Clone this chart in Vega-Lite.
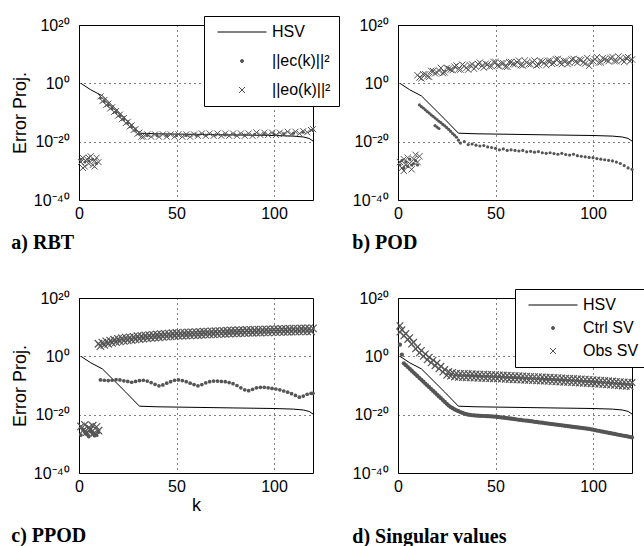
{
"$schema":"https://vega.github.io/schema/vega-lite/v6.json",
"background":"white",
"padding":{"left":10,"top":15,"right":0,"bottom":0},
"config":{
 "view":{"stroke":"black","strokeWidth":1},
 "font":"Liberation Sans",
 "axis":{"domain":false,"ticks":false,"grid":true,"gridColor":"black","gridDash":[1,4],"gridOpacity":1,"gridWidth":1,"labelFont":"Liberation Sans","labelFontSize":16,"labelColor":"black","labelFlush":false,"labelOverlap":false,"titleFont":"Liberation Sans","titleFontSize":18,"titleFontWeight":"normal","titleColor":"black"},
 "axisX":{"labelPadding":5,"titlePadding":2},
 "axisY":{"labelPadding":10,"titlePadding":4},
 "title":{"font":"Liberation Serif","fontSize":20,"fontWeight":"bold","orient":"bottom","anchor":"start","color":"black"}
},
"columns":2,
"spacing":{"row":98,"column":85},
"bounds":"flush",
"resolve":{"scale":{"color":"independent"}},
"concat":[
 {"width":234,"height":175,"title":{"text":"a) RBT","offset":12},
  "layer":[
   {"data":{"name":"hsv"},"mark":{"type":"line","strokeWidth":1,"color":"black"},
    "encoding":{
     "x":{"field":"k","type":"quantitative","scale":{"domain":[0,120],"nice":false,"zero":false},"axis":{"values":[0,50,100],"title":null}},
     "y":{"field":"v","type":"quantitative","scale":{"type":"log","domain":[1e-40,1e20],"nice":false},"axis":{"values":[1e-40,1e-20,1,1e20],"labelExpr":"datum.value > 1e10 ? '10²⁰' : datum.value > 1e-10 ? '10⁰' : datum.value > 1e-30 ? '10⁻²⁰' : '10⁻⁴⁰'","title":"Error Proj."}},
     "color":{"datum":"HSV","scale":{"domain":["HSV","||ec(k)||²","||eo(k)||²"],"range":["#000000","#555555","#555555"]},
      "legend":{"orient":"none","legendX":125,"legendY":-9,"title":null,"padding":8,"strokeColor":"black","fillColor":"white","labelFont":"Liberation Sans","labelFontSize":16,"labelColor":"black","rowPadding":13,"symbolSize":100,"symbolOffset":22,"labelOffset":22,"symbolStrokeWidth":1,
       "encode":{"symbols":{"update":{
        "shape":{"signal":"datum.value === 'HSV' ? 'stroke' : datum.value === '||eo(k)||²' ? 'M-1,-1L1,1M-1,1L1,-1' : 'circle'"},
        "size":{"signal":"datum.value === 'HSV' ? 2400 : datum.value === '||eo(k)||²' ? 36 : 9"},
        "fill":{"signal":"datum.value === '||ec(k)||²' ? '#555555' : 'transparent'"},
        "stroke":{"signal":"datum.value === 'HSV' ? '#000000' : '#555555'"},
        "strokeWidth":{"value":1},"opacity":{"value":1}}}}}}}},
   {"data":{"name":"a_c"},"mark":{"type":"point","filled":true,"size":9,"opacity":1},
    "encoding":{"x":{"field":"k","type":"quantitative"},"y":{"field":"v","type":"quantitative"},"color":{"datum":"||ec(k)||²"}}},
   {"data":{"name":"a_o"},"mark":{"type":"point","shape":"M-1,-1L1,1M-1,1L1,-1","filled":false,"size":36,"strokeWidth":1,"opacity":1},
    "encoding":{"x":{"field":"k","type":"quantitative"},"y":{"field":"v","type":"quantitative"},"color":{"datum":"||eo(k)||²"}}}
  ]},
 {"width":234,"height":175,"title":{"text":"b) POD","offset":12},
  "layer":[
   {"data":{"name":"hsv"},"mark":{"type":"line","strokeWidth":1},
    "encoding":{
     "x":{"field":"k","type":"quantitative","scale":{"domain":[0,120],"nice":false,"zero":false},"axis":{"values":[0,50,100],"title":null}},
     "y":{"field":"v","type":"quantitative","scale":{"type":"log","domain":[1e-40,1e20],"nice":false},"axis":{"values":[1e-40,1e-20,1,1e20],"labelExpr":"datum.value > 1e10 ? '10²⁰' : datum.value > 1e-10 ? '10⁰' : datum.value > 1e-30 ? '10⁻²⁰' : '10⁻⁴⁰'","title":null}},
     "color":{"datum":"HSV","scale":{"domain":["HSV","||ec(k)||²","||eo(k)||²"],"range":["#000000","#555555","#555555"]},"legend":null}}},
   {"data":{"name":"b_c"},"mark":{"type":"point","filled":true,"size":10,"opacity":1},
    "encoding":{"x":{"field":"k","type":"quantitative"},"y":{"field":"v","type":"quantitative"},"color":{"datum":"||ec(k)||²"}}},
   {"data":{"name":"b_o"},"mark":{"type":"point","shape":"M-1,-1L1,1M-1,1L1,-1","filled":false,"size":40,"strokeWidth":1,"opacity":1},
    "encoding":{"x":{"field":"k","type":"quantitative"},"y":{"field":"v","type":"quantitative"},"color":{"datum":"||eo(k)||²"}}}
  ]},
 {"width":234,"height":175,"title":{"text":"c) PPOD","offset":12},
  "layer":[
   {"data":{"name":"hsv"},"mark":{"type":"line","strokeWidth":1},
    "encoding":{
     "x":{"field":"k","type":"quantitative","scale":{"domain":[0,120],"nice":false,"zero":false},"axis":{"values":[0,50,100],"title":"k"}},
     "y":{"field":"v","type":"quantitative","scale":{"type":"log","domain":[1e-40,1e20],"nice":false},"axis":{"values":[1e-40,1e-20,1,1e20],"labelExpr":"datum.value > 1e10 ? '10²⁰' : datum.value > 1e-10 ? '10⁰' : datum.value > 1e-30 ? '10⁻²⁰' : '10⁻⁴⁰'","title":"Error Proj."}},
     "color":{"datum":"HSV","scale":{"domain":["HSV","||ec(k)||²","||eo(k)||²"],"range":["#000000","#555555","#555555"]},"legend":null}}},
   {"data":{"name":"c_c"},"mark":{"type":"point","filled":true,"size":14,"opacity":1},
    "encoding":{"x":{"field":"k","type":"quantitative"},"y":{"field":"v","type":"quantitative"},"color":{"datum":"||ec(k)||²"}}},
   {"data":{"name":"c_o"},"mark":{"type":"point","shape":"M-1,-1L1,1M-1,1L1,-1","filled":false,"size":56,"strokeWidth":1.2,"opacity":1},
    "encoding":{"x":{"field":"k","type":"quantitative"},"y":{"field":"v","type":"quantitative"},"color":{"datum":"||eo(k)||²"}}}
  ]},
 {"width":234,"height":175,"title":{"text":"d) Singular values","offset":33},
  "layer":[
   {"data":{"name":"hsv"},"mark":{"type":"line","strokeWidth":1},
    "encoding":{
     "x":{"field":"k","type":"quantitative","scale":{"domain":[0,120],"nice":false,"zero":false},"axis":{"values":[0,50,100],"title":null}},
     "y":{"field":"v","type":"quantitative","scale":{"type":"log","domain":[1e-40,1e20],"nice":false},"axis":{"values":[1e-40,1e-20,1,1e20],"labelExpr":"datum.value > 1e10 ? '10²⁰' : datum.value > 1e-10 ? '10⁰' : datum.value > 1e-30 ? '10⁻²⁰' : '10⁻⁴⁰'","title":null}},
     "color":{"datum":"HSV","scale":{"domain":["HSV","Ctrl SV","Obs SV"],"range":["#000000","#555555","#555555"]},
      "legend":{"orient":"none","legendX":117,"legendY":-9,"title":null,"padding":8,"strokeColor":"black","fillColor":"white","labelFont":"Liberation Sans","labelFontSize":16,"labelColor":"black","rowPadding":7,"symbolSize":100,"symbolOffset":22,"labelOffset":22,"symbolStrokeWidth":1,
       "encode":{"symbols":{"update":{
        "shape":{"signal":"datum.value === 'HSV' ? 'stroke' : datum.value === 'Obs SV' ? 'M-1,-1L1,1M-1,1L1,-1' : 'circle'"},
        "size":{"signal":"datum.value === 'HSV' ? 2400 : datum.value === 'Obs SV' ? 36 : 9"},
        "fill":{"signal":"datum.value === 'Ctrl SV' ? '#555555' : 'transparent'"},
        "stroke":{"signal":"datum.value === 'HSV' ? '#000000' : '#555555'"},
        "strokeWidth":{"value":1},"opacity":{"value":1}}}}}}}},
   {"data":{"name":"d_c"},"mark":{"type":"point","filled":true,"size":18,"opacity":1},
    "encoding":{"x":{"field":"k","type":"quantitative"},"y":{"field":"v","type":"quantitative"},"color":{"datum":"Ctrl SV"}}},
   {"data":{"name":"d_o"},"mark":{"type":"point","shape":"M-1,-1L1,1M-1,1L1,-1","filled":false,"size":44,"strokeWidth":1.2,"opacity":1},
    "encoding":{"x":{"field":"k","type":"quantitative"},"y":{"field":"v","type":"quantitative"},"color":{"datum":"Obs SV"}}}
  ]}
],
"datasets":{
 "hsv":[{"k":1,"v":1},{"k":6,"v":6.3e-3},{"k":12,"v":5e-5},{"k":18,"v":5e-9},{"k":24,"v":5e-13},{"k":31,"v":8e-18},{"k":40,"v":5e-18},{"k":60,"v":3.2e-18},{"k":80,"v":2e-18},{"k":100,"v":1.3e-18},{"k":110,"v":8e-19},{"k":115,"v":4e-19},{"k":118,"v":1.3e-19},{"k":120,"v":1.6e-20}],
 "a_c":[{"k":1,"v":1e-26},{"k":3,"v":1e-27},{"k":5,"v":3e-27},{"k":7,"v":1e-26},{"k":9,"v":3e-28},{"k":11,"v":1e-5},{"k":13,"v":6e-7},{"k":15,"v":3.2e-8},{"k":17,"v":2e-9},{"k":19,"v":1e-10},{"k":21,"v":6.3e-12},{"k":23,"v":4e-13},{"k":25,"v":2e-14},{"k":27,"v":1.2e-15},{"k":29,"v":7e-17},{"k":31,"v":4e-18},{"k":35,"v":1.3e-18},{"k":40,"v":1.3e-18},{"k":45,"v":1.3e-18},{"k":50,"v":1.3e-18},{"k":55,"v":1.3e-18},{"k":60,"v":2e-18},{"k":65,"v":2e-18},{"k":70,"v":2e-18},{"k":75,"v":2e-18},{"k":80,"v":2e-18},{"k":85,"v":2e-18},{"k":90,"v":3e-18},{"k":95,"v":3e-18},{"k":100,"v":4e-18},{"k":105,"v":5e-18},{"k":110,"v":8e-18},{"k":115,"v":1.6e-17},{"k":120,"v":1e-16}],
 "a_o":[{"k":1,"v":1e-27},{"k":2,"v":3e-26},{"k":2,"v":1e-29},{"k":3,"v":3e-29},{"k":4,"v":1e-26},{"k":5,"v":3e-28},{"k":5,"v":3e-26},{"k":6,"v":1e-25},{"k":7,"v":1e-28},{"k":8,"v":3e-27},{"k":8,"v":3e-29},{"k":9,"v":3e-26},{"k":10,"v":1e-27},
  {"k":11,"v":3.2e-5},{"k":12,"v":8e-7},{"k":13,"v":2e-6},{"k":14,"v":4e-8},{"k":15,"v":1e-7},{"k":16,"v":2.5e-9},{"k":17,"v":6.3e-9},{"k":18,"v":1.6e-10},{"k":19,"v":3.2e-10},{"k":20,"v":8e-12},{"k":21,"v":2e-11},{"k":22,"v":5e-13},{"k":23,"v":1.3e-12},{"k":24,"v":2.5e-14},{"k":25,"v":6.3e-14},{"k":26,"v":1.6e-15},{"k":27,"v":4e-15},{"k":28,"v":1e-16},{"k":29,"v":2e-16},{"k":30,"v":5e-18},{"k":31,"v":1.3e-17},{"k":32,"v":5e-19},
  {"k":33,"v":5e-19},{"k":35,"v":3.2e-18},{"k":37,"v":5e-19},{"k":39,"v":3.2e-18},{"k":41,"v":5e-19},{"k":43,"v":3.2e-18},{"k":45,"v":5e-19},{"k":47,"v":3.2e-18},{"k":49,"v":5e-19},{"k":51,"v":3.2e-18},{"k":53,"v":5e-19},{"k":55,"v":3.2e-18},{"k":57,"v":5e-19},{"k":59,"v":3.2e-18},
  {"k":61,"v":1e-18},{"k":63,"v":6.3e-18},{"k":65,"v":1e-18},{"k":67,"v":6.3e-18},{"k":69,"v":1e-18},{"k":71,"v":6.3e-18},{"k":73,"v":1e-18},{"k":75,"v":6.3e-18},{"k":77,"v":1e-18},{"k":79,"v":6.3e-18},{"k":81,"v":1e-18},{"k":83,"v":6.3e-18},{"k":85,"v":1e-18},{"k":87,"v":6.3e-18},{"k":89,"v":1e-18},
  {"k":91,"v":1.3e-17},{"k":93,"v":2e-18},{"k":95,"v":1.3e-17},{"k":97,"v":2e-18},{"k":99,"v":1.3e-17},{"k":101,"v":2e-18},{"k":103,"v":1.3e-17},{"k":105,"v":4e-18},{"k":107,"v":2.5e-17},{"k":109,"v":4e-18},{"k":111,"v":2.5e-17},{"k":113,"v":6.3e-18},{"k":115,"v":4e-17},{"k":117,"v":1.6e-17},{"k":119,"v":1e-16},{"k":120,"v":2e-16}],
 "b_c":[{"k":1,"v":1e-28},{"k":2,"v":3.2e-27},{"k":3,"v":1e-29},{"k":4,"v":1e-27},{"k":5,"v":3.2e-29},{"k":6,"v":1e-26},{"k":7,"v":1e-28},{"k":8,"v":3.2e-28},{"k":9,"v":3.2e-27},{"k":10,"v":1e-28},
  {"k":11,"v":4e-8},{"k":12,"v":1e-8},{"k":13,"v":3.2e-9},{"k":14,"v":8e-10},{"k":15,"v":2e-10},{"k":16,"v":6.3e-11},{"k":17,"v":1.6e-11},{"k":18,"v":5e-12},{"k":19,"v":1.3e-12},{"k":20,"v":4e-13},{"k":21,"v":1e-13},{"k":22,"v":3.2e-14},{"k":23,"v":8e-15},{"k":24,"v":2.5e-15},{"k":25,"v":6.3e-16},{"k":26,"v":1.6e-16},{"k":27,"v":3.2e-17},{"k":28,"v":6.3e-18},{"k":29,"v":1.6e-18},{"k":30,"v":3.2e-19},{"k":31,"v":3.2e-20},{"k":32,"v":3.2e-21},
  {"k":19,"v":3.2e-15},{"k":20,"v":1e-15},{"k":21,"v":3.2e-16},
  {"k":34,"v":1e-20},{"k":36,"v":1e-21},{"k":38,"v":1.6e-21},{"k":40,"v":6.3e-22},{"k":42,"v":3.2e-22},{"k":44,"v":5e-22},{"k":46,"v":1.6e-22},{"k":48,"v":1e-22},{"k":50,"v":5e-23},{"k":52,"v":1.6e-23},{"k":54,"v":3.2e-23},{"k":56,"v":1e-23},{"k":58,"v":1.6e-23},{"k":60,"v":1e-23},{"k":62,"v":6.3e-24},{"k":64,"v":1e-23},{"k":66,"v":3.2e-24},{"k":68,"v":5e-24},{"k":70,"v":2.5e-24},{"k":72,"v":4e-24},{"k":74,"v":1.6e-24},{"k":76,"v":1e-24},{"k":78,"v":1.6e-24},{"k":80,"v":8e-25},{"k":82,"v":5e-25},{"k":84,"v":1e-24},{"k":86,"v":4e-25},{"k":88,"v":2.5e-25},{"k":90,"v":5e-25},{"k":92,"v":1.6e-25},{"k":94,"v":1e-25},{"k":96,"v":6.3e-26},{"k":98,"v":4e-26},{"k":100,"v":3.2e-26},{"k":102,"v":1.6e-26},{"k":104,"v":1e-26},{"k":106,"v":6.3e-27},{"k":108,"v":4e-27},{"k":110,"v":2.5e-27},{"k":112,"v":1e-27},{"k":114,"v":3.2e-28},{"k":116,"v":6.3e-29},{"k":118,"v":1e-29},{"k":120,"v":3.2e-30}],
 "b_o":[{"k":1,"v":1e-27},{"k":2,"v":1e-29},{"k":3,"v":1e-26},{"k":3,"v":1e-30},{"k":4,"v":1e-28},{"k":5,"v":3.2e-26},{"k":6,"v":3.2e-28},{"k":7,"v":3.2e-30},{"k":8,"v":1e-26},{"k":9,"v":3.2e-25},{"k":10,"v":1e-27},{"k":11,"v":1e-25},
  {"k":10,"v":6.3e2},{"k":11,"v":1e2},{"k":12,"v":5e1},{"k":13,"v":1.3e3},{"k":14,"v":1.3e3},{"k":15,"v":2.5e2},{"k":16,"v":1.6e2},{"k":17,"v":2e4},{"k":18,"v":1.6e4},{"k":19,"v":2.5e3},{"k":20,"v":5e3},{"k":21,"v":2.5e4},{"k":22,"v":2e5},{"k":23,"v":3.2e3},{"k":24,"v":5e3},{"k":25,"v":1.8e5},{"k":26,"v":1e5},{"k":27,"v":5e4},{"k":28,"v":3.2e4},{"k":29,"v":5e5},{"k":30,"v":1.3e6},
  {"k":31,"v":6.3e4},{"k":32,"v":5e4},{"k":33,"v":2.5e6},{"k":34,"v":8e5},{"k":35,"v":1.8e5},{"k":36,"v":5e4},{"k":37,"v":1.3e6},{"k":38,"v":3.2e6},{"k":39,"v":1e5},{"k":40,"v":5e5},{"k":41,"v":4.5e6},{"k":42,"v":1.3e7},{"k":43,"v":9e5},{"k":44,"v":2.5e5},{"k":45,"v":5.6e6},{"k":46,"v":3.2e6},{"k":47,"v":5.6e5},{"k":48,"v":8e5},{"k":49,"v":2.2e7},{"k":50,"v":2e7},
  {"k":51,"v":1.3e6},{"k":52,"v":8e5},{"k":53,"v":8e6},{"k":54,"v":8e6},{"k":55,"v":5.6e5},{"k":56,"v":5e5},{"k":57,"v":2e7},{"k":58,"v":2e7},{"k":59,"v":3.7e6},{"k":60,"v":3.2e6},{"k":61,"v":2e7},{"k":62,"v":6.3e7},{"k":63,"v":1.8e6},{"k":64,"v":1.3e6},{"k":65,"v":6.3e7},{"k":66,"v":1.3e7},{"k":67,"v":3.5e6},{"k":68,"v":3.2e6},{"k":69,"v":2e7},{"k":70,"v":6.3e7},
  {"k":71,"v":1.3e6},{"k":72,"v":2.5e6},{"k":73,"v":5e7},{"k":74,"v":2.5e7},{"k":75,"v":9e6},{"k":76,"v":1.6e6},{"k":77,"v":5e7},{"k":78,"v":6.3e7},{"k":79,"v":4.7e6},{"k":80,"v":1e7},{"k":81,"v":1.7e8},{"k":82,"v":2.5e8},{"k":83,"v":1e7},{"k":84,"v":4e6},{"k":85,"v":5.6e7},{"k":86,"v":5e7},{"k":87,"v":4e6},{"k":88,"v":1e7},{"k":89,"v":1.5e8},{"k":90,"v":2.5e8},
  {"k":91,"v":2.7e7},{"k":92,"v":1e7},{"k":93,"v":1.6e8},{"k":94,"v":1e8},{"k":95,"v":1.4e7},{"k":96,"v":6.3e6},{"k":97,"v":5e8},{"k":98,"v":1e6},{"k":99,"v":3e7},{"k":100,"v":4e7},{"k":101,"v":1.7e8},{"k":102,"v":1e9},{"k":103,"v":1.3e7},{"k":104,"v":1.6e7},{"k":105,"v":4.5e8},{"k":106,"v":2e8},{"k":107,"v":8e7},{"k":108,"v":4e7},{"k":109,"v":4.7e8},{"k":110,"v":1e9},
  {"k":111,"v":4.3e7},{"k":112,"v":4e7},{"k":113,"v":1.6e9},{"k":114,"v":4e8},{"k":115,"v":9e7},{"k":116,"v":2.5e7},{"k":117,"v":5e8},{"k":118,"v":1e9},{"k":119,"v":3.7e7},{"k":120,"v":1.6e8}],
 "c_c":[{"k":1,"v":1e-27},{"k":2,"v":1e-25},{"k":3,"v":1e-26},{"k":4,"v":1.6e-27},{"k":5,"v":3.2e-28},{"k":6,"v":1.6e-26},{"k":7,"v":3.2e-27},{"k":8,"v":6.3e-28},{"k":9,"v":1e-27},{"k":10,"v":1e-26},
  {"k":11,"v":8e-9},{"k":13,"v":6.3e-9},{"k":15,"v":5e-9},{"k":17,"v":6.3e-9},{"k":19,"v":1e-8},{"k":21,"v":8e-9},{"k":23,"v":4e-9},{"k":25,"v":2.5e-9},{"k":27,"v":1.3e-9},{"k":29,"v":2.5e-9},{"k":31,"v":5e-9},{"k":33,"v":6.3e-9},{"k":35,"v":3.2e-9},{"k":37,"v":1e-9},{"k":39,"v":2.5e-10},{"k":41,"v":8e-11},{"k":43,"v":1.6e-10},{"k":45,"v":6.3e-10},{"k":47,"v":2e-9},{"k":49,"v":6.3e-9},
  {"k":51,"v":8e-9},{"k":53,"v":5e-9},{"k":55,"v":2e-9},{"k":57,"v":6.3e-10},{"k":59,"v":2e-10},{"k":61,"v":8e-11},{"k":63,"v":2e-10},{"k":65,"v":8e-10},{"k":67,"v":2e-9},{"k":69,"v":3.2e-9},{"k":71,"v":3.2e-9},{"k":73,"v":2.5e-9},{"k":75,"v":2e-9},{"k":77,"v":1e-9},{"k":79,"v":4e-10},{"k":81,"v":1e-10},{"k":83,"v":1.6e-11},{"k":85,"v":3.2e-12},{"k":87,"v":1.6e-12},{"k":89,"v":5e-12},
  {"k":91,"v":1.6e-11},{"k":93,"v":2.5e-11},{"k":95,"v":2.5e-11},{"k":97,"v":1.6e-11},{"k":99,"v":1e-11},{"k":101,"v":6.3e-12},{"k":103,"v":3.2e-12},{"k":105,"v":1.3e-12},{"k":107,"v":5e-13},{"k":109,"v":1.6e-13},{"k":111,"v":4e-14},{"k":113,"v":1e-14},{"k":115,"v":2.5e-14},{"k":117,"v":1e-13},{"k":119,"v":2e-13},{"k":120,"v":2e-13}],
 "c_o":[{"k":1,"v":1e-24},{"k":2,"v":3.2e-26},{"k":3,"v":3.2e-24},{"k":4,"v":1e-26},{"k":5,"v":3.2e-25},{"k":6,"v":1e-25},{"k":7,"v":1.6e-24},{"k":8,"v":6.3e-27},{"k":9,"v":6.3e-25},{"k":10,"v":3.2e-26},
  {"k":10,"v":2e4},{"k":11,"v":3.2e3},{"k":12,"v":5e4},{"k":13,"v":8e3},{"k":14,"v":1.3e5},{"k":15,"v":2e4},{"k":16,"v":2.5e5},{"k":17,"v":4e4},{"k":18,"v":5e5},{"k":19,"v":7e4},{"k":20,"v":1e6},
  {"k":21,"v":1.3e5},{"k":22,"v":1.6e6},{"k":23,"v":2e5},{"k":24,"v":2.5e6},{"k":25,"v":3e5},{"k":26,"v":3.2e6},{"k":27,"v":4e5},{"k":28,"v":5e6},{"k":29,"v":6.3e5},{"k":30,"v":8e6},
  {"k":31,"v":9e5},{"k":32,"v":1e7},{"k":33,"v":1.2e6},{"k":34,"v":1.4e7},{"k":35,"v":1.6e6},{"k":36,"v":1.8e7},{"k":37,"v":2.1e6},{"k":38,"v":2.4e7},{"k":39,"v":2.8e6},{"k":40,"v":3.2e7},
  {"k":41,"v":3.5e6},{"k":42,"v":4e7},{"k":43,"v":4.5e6},{"k":44,"v":5e7},{"k":45,"v":5.6e6},{"k":46,"v":6.3e7},{"k":47,"v":7e6},{"k":48,"v":8e7},{"k":49,"v":9e6},{"k":50,"v":1e8},
  {"k":51,"v":1.1e7},{"k":52,"v":1.1e8},{"k":53,"v":1.2e7},{"k":54,"v":1.3e8},{"k":55,"v":1.4e7},{"k":56,"v":1.5e8},{"k":57,"v":1.6e7},{"k":58,"v":1.7e8},{"k":59,"v":1.9e7},{"k":60,"v":2e8},
  {"k":61,"v":2.1e7},{"k":62,"v":2.3e8},{"k":63,"v":2.5e7},{"k":64,"v":2.6e8},{"k":65,"v":2.8e7},{"k":66,"v":3e8},{"k":67,"v":3.2e7},{"k":68,"v":3.5e8},{"k":69,"v":3.7e7},{"k":70,"v":4e8},
  {"k":71,"v":4.3e7},{"k":72,"v":4.6e8},{"k":73,"v":4.9e7},{"k":74,"v":5.2e8},{"k":75,"v":5.6e7},{"k":76,"v":6e8},{"k":77,"v":6.5e7},{"k":78,"v":7e8},{"k":79,"v":7.4e7},{"k":80,"v":8e8},
  {"k":81,"v":8.3e7},{"k":82,"v":8.7e8},{"k":83,"v":9e7},{"k":84,"v":9.5e8},{"k":85,"v":1e8},{"k":86,"v":1.05e9},{"k":87,"v":1.1e8},{"k":88,"v":1.15e9},{"k":89,"v":1.2e8},{"k":90,"v":1.26e9},
  {"k":91,"v":1.3e8},{"k":92,"v":1.4e9},{"k":93,"v":1.45e8},{"k":94,"v":1.5e9},{"k":95,"v":1.6e8},{"k":96,"v":1.65e9},{"k":97,"v":1.7e8},{"k":98,"v":1.8e9},{"k":99,"v":1.9e8},{"k":100,"v":2e9},
  {"k":101,"v":2.1e8},{"k":102,"v":2.2e9},{"k":103,"v":2.3e8},{"k":104,"v":2.4e9},{"k":105,"v":2.5e8},{"k":106,"v":2.6e9},{"k":107,"v":2.75e8},{"k":108,"v":2.9e9},{"k":109,"v":3e8},{"k":110,"v":3.2e9},
  {"k":111,"v":3.2e8},{"k":112,"v":3.3e9},{"k":113,"v":3.4e8},{"k":114,"v":3.5e9},{"k":115,"v":3.5e8},{"k":116,"v":3.6e9},{"k":117,"v":3.7e8},{"k":118,"v":3.8e9},{"k":119,"v":3.9e8},{"k":120,"v":4e9}],
 "d_c":[{"k":1,"v":1e4},{"k":2,"v":4},{"k":3,"v":4e-3},{"k":4,"v":9.3e-4},{"k":5,"v":2.2e-4},{"k":6,"v":5.1e-5},{"k":7,"v":1.2e-5},{"k":8,"v":2.8e-6},{"k":9,"v":6.6e-7},{"k":10,"v":1.5e-7},
  {"k":11,"v":3.6e-8},{"k":12,"v":8.5e-9},{"k":13,"v":2e-9},{"k":14,"v":4.7e-10},{"k":15,"v":1.1e-10},{"k":16,"v":2.6e-11},{"k":17,"v":6e-12},{"k":18,"v":1.4e-12},{"k":19,"v":3.3e-13},{"k":20,"v":7.8e-14},
  {"k":21,"v":1.8e-14},{"k":22,"v":4.3e-15},{"k":23,"v":1e-15},{"k":24,"v":2.3e-16},{"k":25,"v":5.5e-17},{"k":26,"v":1.3e-17},{"k":27,"v":4e-18},{"k":28,"v":1.6e-18},{"k":29,"v":6.3e-19},{"k":30,"v":3.2e-19},
  {"k":31,"v":1.6e-19},{"k":32,"v":7.9e-20},{"k":33,"v":4e-20},{"k":34,"v":2.5e-20},{"k":35,"v":1.6e-20},{"k":36,"v":1e-20},{"k":37,"v":7.9e-21},{"k":38,"v":6.3e-21},{"k":39,"v":5.6e-21},{"k":40,"v":5e-21},
  {"k":41,"v":4.6e-21},{"k":42,"v":4.2e-21},{"k":43,"v":3.8e-21},{"k":44,"v":3.5e-21},{"k":45,"v":3.2e-21},{"k":46,"v":2.9e-21},{"k":47,"v":2.6e-21},{"k":48,"v":2.4e-21},{"k":49,"v":2.2e-21},{"k":50,"v":2e-21},
  {"k":51,"v":1.6e-21},{"k":52,"v":1.3e-21},{"k":53,"v":1.1e-21},{"k":54,"v":8.9e-22},{"k":55,"v":7.4e-22},{"k":56,"v":6e-22},{"k":57,"v":5e-22},{"k":58,"v":4.1e-22},{"k":59,"v":3.3e-22},{"k":60,"v":2.8e-22},
  {"k":61,"v":2.2e-22},{"k":62,"v":1.8e-22},{"k":63,"v":1.5e-22},{"k":64,"v":1.2e-22},{"k":65,"v":1e-22},{"k":66,"v":8.3e-23},{"k":67,"v":6.8e-23},{"k":68,"v":5.6e-23},{"k":69,"v":4.6e-23},{"k":70,"v":3.7e-23},
  {"k":71,"v":3.1e-23},{"k":72,"v":2.5e-23},{"k":73,"v":2e-23},{"k":74,"v":1.7e-23},{"k":75,"v":1.3e-23},{"k":76,"v":1.1e-23},{"k":77,"v":9.1e-24},{"k":78,"v":7.4e-24},{"k":79,"v":6e-24},{"k":80,"v":4.9e-24},
  {"k":81,"v":4e-24},{"k":82,"v":3.3e-24},{"k":83,"v":2.7e-24},{"k":84,"v":2.2e-24},{"k":85,"v":1.8e-24},{"k":86,"v":1.4e-24},{"k":87,"v":1.2e-24},{"k":88,"v":9.6e-25},{"k":89,"v":7.9e-25},{"k":90,"v":6.5e-25},
  {"k":91,"v":5.2e-25},{"k":92,"v":4.3e-25},{"k":93,"v":3.5e-25},{"k":94,"v":2.8e-25},{"k":95,"v":2.3e-25},{"k":96,"v":1.9e-25},{"k":97,"v":1.5e-25},{"k":98,"v":1.3e-25},{"k":99,"v":9.3e-26},{"k":100,"v":6.9e-26},
  {"k":101,"v":5e-26},{"k":102,"v":3.7e-26},{"k":103,"v":2.8e-26},{"k":104,"v":2e-26},{"k":105,"v":1.5e-26},{"k":106,"v":1.1e-26},{"k":107,"v":8.3e-27},{"k":108,"v":6e-27},{"k":109,"v":4.5e-27},{"k":110,"v":3.3e-27},
  {"k":111,"v":2.5e-27},{"k":112,"v":1.8e-27},{"k":113,"v":1.3e-27},{"k":114,"v":1e-27},{"k":115,"v":7.2e-28},{"k":116,"v":5.4e-28},{"k":117,"v":4e-28},{"k":118,"v":3e-28},{"k":119,"v":2.2e-28},{"k":120,"v":1.6e-28}],
 "d_o":[{"k":1,"v":3.2e10},{"k":1,"v":2e8},{"k":2,"v":1.2e9},{"k":3,"v":1.1e7},{"k":4,"v":6.3e7},{"k":5,"v":6.3e5},{"k":6,"v":2.5e6},{"k":7,"v":1.6e4},{"k":8,"v":6.3e4},{"k":9,"v":4e2},{"k":10,"v":1.6e3},
  {"k":11,"v":1.6e1},{"k":12,"v":1e2},{"k":13,"v":1},{"k":14,"v":6.3},{"k":15,"v":6.3e-2},{"k":16,"v":5e-1},{"k":17,"v":6.3e-3},{"k":18,"v":5e-2},{"k":19,"v":6.3e-4},{"k":20,"v":5e-3},
  {"k":21,"v":5.5e-5},{"k":22,"v":3.8e-4},{"k":23,"v":4.2e-6},{"k":24,"v":2.9e-5},{"k":25,"v":3.2e-7},{"k":26,"v":5.8e-6},{"k":27,"v":1.7e-7},{"k":28,"v":3e-6},{"k":29,"v":8.7e-8},{"k":30,"v":1.6e-6},
  {"k":31,"v":6.3e-8},{"k":32,"v":1.4e-6},{"k":33,"v":5.3e-8},{"k":34,"v":1.3e-6},{"k":35,"v":4.7e-8},{"k":36,"v":1.1e-6},{"k":37,"v":4.2e-8},{"k":38,"v":1e-6},{"k":39,"v":3.7e-8},{"k":40,"v":8.9e-7},
  {"k":41,"v":3.3e-8},{"k":42,"v":7.9e-7},{"k":43,"v":3e-8},{"k":44,"v":7.1e-7},{"k":45,"v":2.6e-8},{"k":46,"v":6.3e-7},{"k":47,"v":2.3e-8},{"k":48,"v":5.6e-7},{"k":49,"v":2.1e-8},{"k":50,"v":5e-7},
  {"k":51,"v":1.9e-8},{"k":52,"v":4.4e-7},{"k":53,"v":1.6e-8},{"k":54,"v":3.7e-7},{"k":55,"v":1.4e-8},{"k":56,"v":3.2e-7},{"k":57,"v":1.2e-8},{"k":58,"v":2.8e-7},{"k":59,"v":1e-8},{"k":60,"v":2.4e-7},
  {"k":61,"v":8.9e-9},{"k":62,"v":2.1e-7},{"k":63,"v":7.6e-9},{"k":64,"v":1.8e-7},{"k":65,"v":6.6e-9},{"k":66,"v":1.5e-7},{"k":67,"v":5.8e-9},{"k":68,"v":1.3e-7},{"k":69,"v":4.9e-9},{"k":70,"v":1.1e-7},
  {"k":71,"v":4.3e-9},{"k":72,"v":1e-7},{"k":73,"v":3.6e-9},{"k":74,"v":8.5e-8},{"k":75,"v":3.2e-9},{"k":76,"v":7.3e-8},{"k":77,"v":2.7e-9},{"k":78,"v":6.2e-8},{"k":79,"v":2.3e-9},{"k":80,"v":5.3e-8},
  {"k":81,"v":1.9e-9},{"k":82,"v":4.5e-8},{"k":83,"v":1.6e-9},{"k":84,"v":3.8e-8},{"k":85,"v":1.4e-9},{"k":86,"v":3.2e-8},{"k":87,"v":1.2e-9},{"k":88,"v":2.7e-8},{"k":89,"v":1e-9},{"k":90,"v":2.3e-8},
  {"k":91,"v":8.4e-10},{"k":92,"v":1.9e-8},{"k":93,"v":7.1e-10},{"k":94,"v":1.7e-8},{"k":95,"v":6e-10},{"k":96,"v":1.4e-8},{"k":97,"v":5.1e-10},{"k":98,"v":1.2e-8},{"k":99,"v":4.3e-10},{"k":100,"v":1e-8},
  {"k":101,"v":3.5e-10},{"k":102,"v":7.9e-9},{"k":103,"v":2.8e-10},{"k":104,"v":6.3e-9},{"k":105,"v":2.2e-10},{"k":106,"v":5e-9},{"k":107,"v":1.8e-10},{"k":108,"v":4e-9},{"k":109,"v":1.4e-10},{"k":110,"v":3.2e-9},
  {"k":111,"v":1.1e-10},{"k":112,"v":2.5e-9},{"k":113,"v":8.9e-11},{"k":114,"v":2e-9},{"k":115,"v":7.1e-11},{"k":116,"v":1.6e-9},{"k":117,"v":5.6e-11},{"k":118,"v":1.3e-9},{"k":119,"v":4.5e-11},{"k":120,"v":1e-9}]
}
}
